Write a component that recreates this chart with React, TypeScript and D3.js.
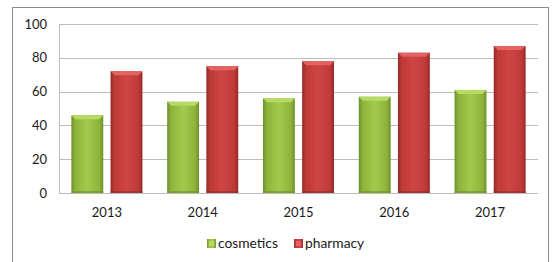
import React from 'react';
import * as d3 from 'd3';

// data
const years = ['2013', '2014', '2015', '2016', '2017'];
const cosmetics = [46, 54, 56, 57, 61];
const pharmacy = [72, 75, 78, 83, 87];
const seriesNames = ['cosmetics', 'pharmacy'];
const yTicks = [0, 20, 40, 60, 80, 100];

const W = 553;
const H = 262;
const plot = { left: 59, right: 538, top: 24, bottom: 193 };

const palette: Record<string, { dark: string; mid: string; light: string; top: string }> = {
  cosmetics: { dark: '#6f8f2c', mid: '#8db33b', light: '#a3c94d', top: '#b7da63' },
  pharmacy: { dark: '#952a29', mid: '#bd3a38', light: '#cf4544', top: '#e46261' },
};

export default function App() {
  const x = d3.scaleBand<string>().domain(years).range([plot.left, plot.right]).padding(0);
  const x1 = d3
    .scaleBand<string>()
    .domain(seriesNames)
    .range([0, x.bandwidth()])
    .paddingInner(0.186)
    .paddingOuter(0.316);
  const y = d3.scaleLinear().domain([0, 100]).range([plot.bottom, plot.top]);

  const values: Record<string, number[]> = { cosmetics, pharmacy };
  const font = 'Lato, "Open Sans", sans-serif';

  return (
    <svg
      width={W}
      height={H}
      style={{ position: 'absolute', left: 0, top: 0, background: '#fff' }}
      fontFamily={font}
    >
      <defs>
        {seriesNames.map((s) => (
          <linearGradient key={s} id={`g-${s}`} x1="0" x2="1" y1="0" y2="0">
            <stop offset="0%" stopColor={palette[s].dark} />
            <stop offset="12%" stopColor={palette[s].mid} />
            <stop offset="50%" stopColor={palette[s].light} />
            <stop offset="88%" stopColor={palette[s].mid} />
            <stop offset="100%" stopColor={palette[s].dark} />
          </linearGradient>
        ))}
      </defs>

      {/* outer frame */}
      <rect x={12.5} y={7.5} width={536} height={270} fill="none" stroke="#8c8c8c" strokeWidth={1} />

      {/* grid */}
      {yTicks.map((t) => (
        <line
          key={t}
          x1={plot.left}
          x2={plot.right}
          y1={Math.round(y(t)) + 0.5}
          y2={Math.round(y(t)) + 0.5}
          stroke="#bdbdbd"
          strokeWidth={1}
        />
      ))}
      <line
        x1={plot.left + 0.5}
        x2={plot.left + 0.5}
        y1={Math.round(y(100)) + 0.5}
        y2={Math.round(y(0)) + 0.5}
        stroke="#bdbdbd"
      />
      {yTicks.map((t) => (
        <text
          key={t}
          x={47}
          y={y(t)}
          dy="0.36em"
          textAnchor="end"
          fontSize={13}
          fill="#1a1a1a"
        >
          {t}
        </text>
      ))}

      {/* bars */}
      {years.map((yr, i) => (
        <g key={yr}>
          {seriesNames.map((s) => {
            const v = values[s][i];
            const bx = (x(yr) ?? 0) + (x1(s) ?? 0);
            const bw = x1.bandwidth();
            const by = y(v);
            const bh = y(0) - by;
            const b = 4;
            return (
              <g key={s}>
                <rect x={bx} y={by} width={bw} height={bh} fill={`url(#g-${s})`} />
                <polygon
                  points={`${bx},${by} ${bx + bw},${by} ${bx + bw - b},${by + b} ${bx + b},${by + b}`}
                  fill={palette[s].top}
                />
                <rect x={bx} y={y(0) - 2} width={bw} height={2} fill={palette[s].dark} opacity={0.6} />
              </g>
            );
          })}
          <text
            x={(x(yr) ?? 0) + x.bandwidth() / 2}
            y={217}
            textAnchor="middle"
            fontSize={13}
            fill="#1a1a1a"
          >
            {yr}
          </text>
        </g>
      ))}

      {/* legend */}
      {seriesNames.map((s, i) => {
        const lx = i === 0 ? 207 : 294;
        return (
          <g key={s}>
            <rect x={lx} y={239} width={9} height={9} fill={`url(#g-${s})`} />
            <rect x={lx + 2} y={241} width={5} height={5} fill={palette[s].top} />
            <text x={lx + 11} y={248} fontSize={13.8} fill="#1a1a1a">
              {s}
            </text>
          </g>
        );
      })}
    </svg>
  );
}
